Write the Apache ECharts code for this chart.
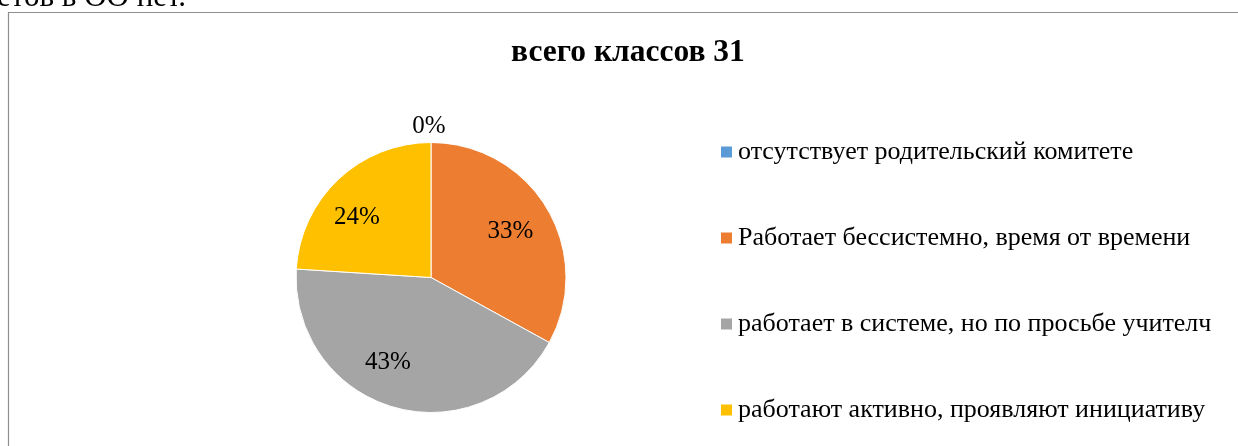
<!DOCTYPE html>
<html>
<head>
<meta charset="utf-8">
<script src="https://cdn.jsdelivr.net/npm/echarts@6/dist/echarts.min.js"></script>
<style>
html,body{margin:0;padding:0;background:#fff;}
#c{width:1238px;height:446px;}
</style>
</head>
<body>
<div id="c"></div>
<script>
const titleText = 'всего классов 31';
const topText = 'етов в ОО нет.';
const categories = [
  'отсутствует родительский комитете',
  'Работает бессистемно, время от времени',
  'работает в системе, но по просьбе учителч',
  'работают активно, проявляют инициативу'
];
const values = [0, 33, 43, 24];
const colors = ['#5B9BD5', '#ED7D31', '#A5A5A5', '#FFC000'];

const FONT = '"Liberation Serif", "Times New Roman", serif';
const chart = echarts.init(document.getElementById('c'), null, {renderer: 'canvas'});

// small nudges of the inside labels to mimic Excel's "best fit" placement
const labelNudge = {1: [-1, 2], 2: [-17, -5], 3: [-10, 8]};

const mainData = categories.map((n, i) => ({
  name: n,
  value: values[i],
  itemStyle: {color: colors[i]},
  label: i === 0 ? {show: true} : {show: false}
}));
const labelData = categories.map((n, i) => ({
  name: n,
  value: values[i],
  label: {show: values[i] > 0}
}));

chart.setOption({
  animation: false,
  backgroundColor: '#fff',
  color: colors,
  title: {
    text: titleText,
    left: 511,
    top: 37,
    padding: 0,
    textStyle: {fontFamily: FONT, fontWeight: 'bold', fontSize: 31.5, color: '#000'}
  },
  graphic: [
    {type: 'rect', shape: {x: 8.5, y: 12.5, width: 1300, height: 600}, style: {fill: 'none', stroke: '#8e8e8e', lineWidth: 1.2}, silent: true, z: -1},
    {type: 'text', x: -3, y: 13, style: {text: topText, font: '31px ' + FONT, fill: '#000', verticalAlign: 'bottom'}, silent: true}
  ],
  legend: {
    orient: 'vertical',
    left: 719,
    top: 139,
    padding: 0,
    itemWidth: 13,
    itemHeight: 13,
    itemGap: 60,
    icon: 'rect',
    data: categories,
    textStyle: {fontFamily: FONT, fontSize: 26, color: '#000'}
  },
  series: [
    {
      type: 'pie',
      center: [431, 277.5],
      radius: [0, 135],
      startAngle: 90,
      clockwise: true,
      avoidLabelOverlap: false,
      itemStyle: {borderColor: '#fff', borderWidth: 1},
      label: {
        position: 'outside',
        formatter: '{c}%',
        fontFamily: FONT, fontSize: 25, color: '#000'
      },
      labelLine: {show: false, length: 16, length2: 0},
      labelLayout: function (p) { return {align: 'center', dx: 3}; },
      emphasis: {disabled: true},
      data: mainData
    },
    {
      type: 'pie',
      center: [431, 277.5],
      radius: [0, 181],
      startAngle: 90,
      clockwise: true,
      silent: true,
      legendHoverLink: false,
      avoidLabelOverlap: false,
      itemStyle: {color: 'rgba(0,0,0,0)', borderWidth: 0},
      label: {
        position: 'inside',
        formatter: '{c}%',
        fontFamily: FONT, fontSize: 25, color: '#000'
      },
      labelLayout: function (p) {
        const n = labelNudge[p.dataIndex] || [0, 0];
        return {dx: n[0], dy: n[1]};
      },
      labelLine: {show: false},
      emphasis: {disabled: true},
      tooltip: {show: false},
      data: labelData
    }
  ]
});
</script>
</body>
</html>
